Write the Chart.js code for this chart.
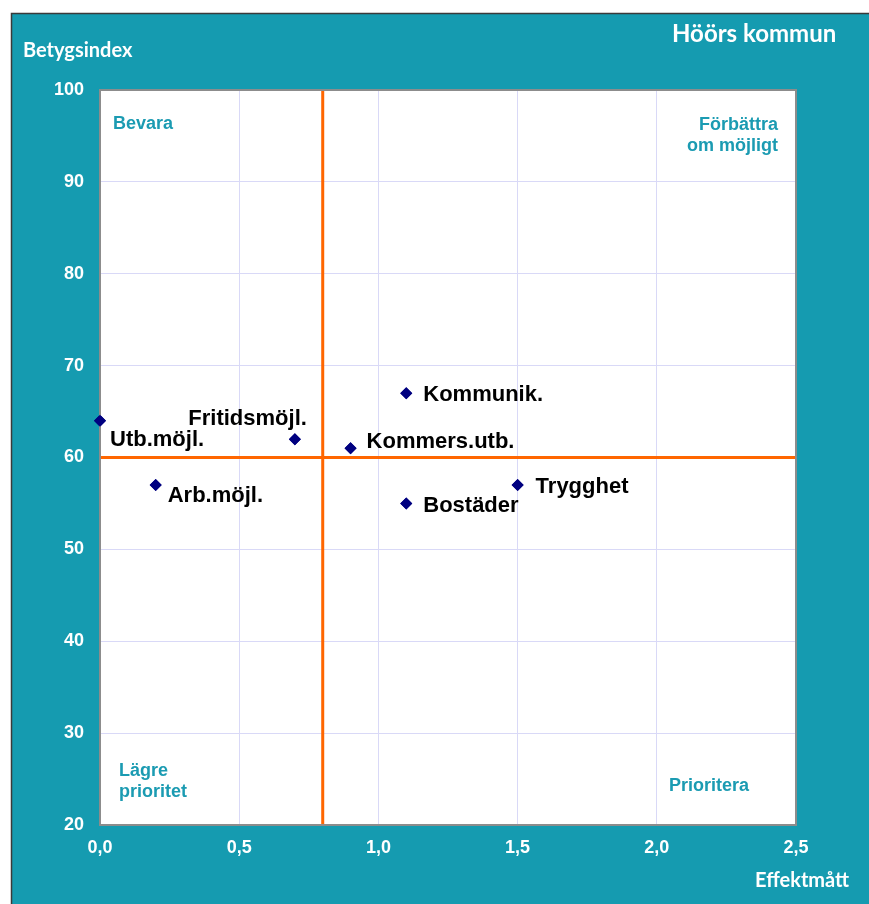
<!DOCTYPE html>
<html>
<head>
<meta charset="utf-8">
<script src="https://cdn.jsdelivr.net/npm/chart.js@4.4.1/dist/chart.umd.min.js"></script>
<style>
  body { margin: 0; background: #fff; }
  #wrap { width: 869px; height: 904px; }
</style>
</head>
<body>
<div id="wrap"><canvas id="matrix" width="869" height="904"></canvas></div>
<script>
// Data
const categories = ['Utb.möjl.', 'Fritidsmöjl.', 'Kommers.utb.', 'Kommunik.', 'Bostäder', 'Trygghet', 'Arb.möjl.'];
const effektValues = [0.0, 0.7, 0.9, 1.1, 1.1, 1.5, 0.2];
const indexValues = [64, 62, 61, 67, 55, 57, 57];
const xCut = 0.8;   // orange vertical divider
const yCut = 60;    // orange horizontal divider
const xTicks = [0, 2.5, 0.5];   // min, max, step
const yTicks = [20, 100, 10];

const TEAL = '#159bb0';
const LABEL_FONT = 'bold 22px "Liberation Sans", Arial, sans-serif';
const QUAD_FONT = 'bold 18px "Liberation Sans", Arial, sans-serif';

// where each point label sits relative to its marker (dx, dy to baseline, align)
const labelPlacement = {
    'Utb.möjl.': [10, 25, 'left'],
    'Fritidsmöjl.': [12, -14, 'right'],
    'Kommers.utb.': [16, 0, 'left'],
    'Kommunik.': [17, 8, 'left'],
    'Bostäder': [17, 9, 'left'],
    'Trygghet': [18, 8, 'left'],
    'Arb.möjl.': [12, 17, 'left']
};

const points = categories.map((c, i) => ({ x: effektValues[i], y: indexValues[i] }));

const backgroundPlugin = {
    id: 'background',
    beforeDraw(chart) {
        const ctx = chart.ctx;
        const a = chart.chartArea;
        ctx.save();
        ctx.fillStyle = '#ffffff';
        ctx.fillRect(0, 0, chart.width, chart.height);
        ctx.fillStyle = TEAL;
        ctx.fillRect(11, 13, chart.width - 11, chart.height - 13);
        ctx.strokeStyle = '#3a3a3a';
        ctx.lineWidth = 1.5;
        ctx.beginPath();
        ctx.moveTo(11.5, chart.height);
        ctx.lineTo(11.5, 13.5);
        ctx.lineTo(chart.width, 13.5);
        ctx.stroke();
        ctx.fillStyle = '#ffffff';
        ctx.fillRect(a.left, a.top, a.right - a.left, a.bottom - a.top);

        // titles
        ctx.fillStyle = '#ffffff';
        ctx.textBaseline = 'alphabetic';
        ctx.textAlign = 'left';
        ctx.font = 'bold 20px Lato, "Open Sans", sans-serif';
        ctx.fillText('Betygsindex', 23, 57);
        ctx.fillText('Effektmått', 755, 887);
        ctx.font = 'bold 24px Lato, "Open Sans", sans-serif';
        ctx.fillText('Höörs kommun', 672, 42);
        ctx.restore();
    },
    afterDatasetsDraw(chart) {
        const ctx = chart.ctx;
        const a = chart.chartArea;
        ctx.save();
        // plot border
        ctx.strokeStyle = '#8c8c8c';
        ctx.lineWidth = 2;
        ctx.strokeRect(a.left, a.top, a.right - a.left, a.bottom - a.top);

        // quadrant captions
        ctx.fillStyle = '#1b9bb2';
        ctx.font = QUAD_FONT;
        ctx.textBaseline = 'alphabetic';
        ctx.textAlign = 'left';
        ctx.fillText('Bevara', a.left + 13, a.top + 39);
        ctx.fillText('Lägre', a.left + 19, a.bottom - 49);
        ctx.fillText('prioritet', a.left + 19, a.bottom - 28);
        ctx.fillText('Prioritera', a.right - 127, a.bottom - 34);
        ctx.textAlign = 'right';
        ctx.fillText('Förbättra', a.right - 18, a.top + 40);
        ctx.fillText('om möjligt', a.right - 18, a.top + 61);

        // markers on top of the border, then point labels
        const meta = chart.getDatasetMeta(0);
        meta.data.forEach(el => el.draw(ctx));
        ctx.fillStyle = '#000000';
        ctx.font = LABEL_FONT;
        meta.data.forEach((el, i) => {
            const p = labelPlacement[categories[i]];
            ctx.textAlign = p[2];
            ctx.fillText(categories[i], el.x + p[0], el.y + p[1]);
        });
        ctx.restore();
    }
};

const ctx = document.getElementById('matrix').getContext('2d');
new Chart(ctx, {
    type: 'scatter',
    data: {
        datasets: [{
            label: 'Områden',
            data: points,
            pointStyle: 'rectRot',
            pointRadius: 6,
            backgroundColor: '#000080',
            borderColor: '#000080',
            borderWidth: 0,
            clip: false,
            order: 0
        }, {
            type: 'line',
            label: 'x-gräns',
            data: [{ x: xCut, y: yTicks[0] }, { x: xCut, y: yTicks[1] }],
            borderColor: '#ff6600',
            borderWidth: 3,
            pointRadius: 0,
            order: 1
        }, {
            type: 'line',
            label: 'y-gräns',
            data: [{ x: xTicks[0], y: yCut }, { x: xTicks[1], y: yCut }],
            borderColor: '#ff6600',
            borderWidth: 3,
            pointRadius: 0,
            order: 1
        }]
    },
    options: {
        responsive: false,
        animation: false,
        layout: { padding: { top: 90, right: 73, left: 0, bottom: 0 } },
        plugins: {
            legend: { display: false },
            tooltip: { enabled: false }
        },
        scales: {
            x: {
                type: 'linear',
                min: xTicks[0],
                max: xTicks[1],
                border: { display: false },
                grid: { color: '#d9d9f7', lineWidth: 1, drawTicks: false },
                ticks: {
                    stepSize: xTicks[2],
                    padding: 12,
                    color: '#ffffff',
                    font: { family: '"Liberation Sans", Arial, sans-serif', size: 18, weight: 'bold' },
                    callback: v => v.toFixed(1).replace('.', ',')
                },
                afterFit: s => { s.height = 79; }
            },
            y: {
                type: 'linear',
                min: yTicks[0],
                max: yTicks[1],
                border: { display: false },
                grid: { color: '#d9d9f7', lineWidth: 1, drawTicks: false },
                ticks: {
                    stepSize: yTicks[2],
                    padding: 16,
                    color: '#ffffff',
                    font: { family: '"Liberation Sans", Arial, sans-serif', size: 18, weight: 'bold' }
                },
                afterFit: s => { s.width = 100; }
            }
        }
    },
    plugins: [backgroundPlugin]
});
</script>
</body>
</html>
